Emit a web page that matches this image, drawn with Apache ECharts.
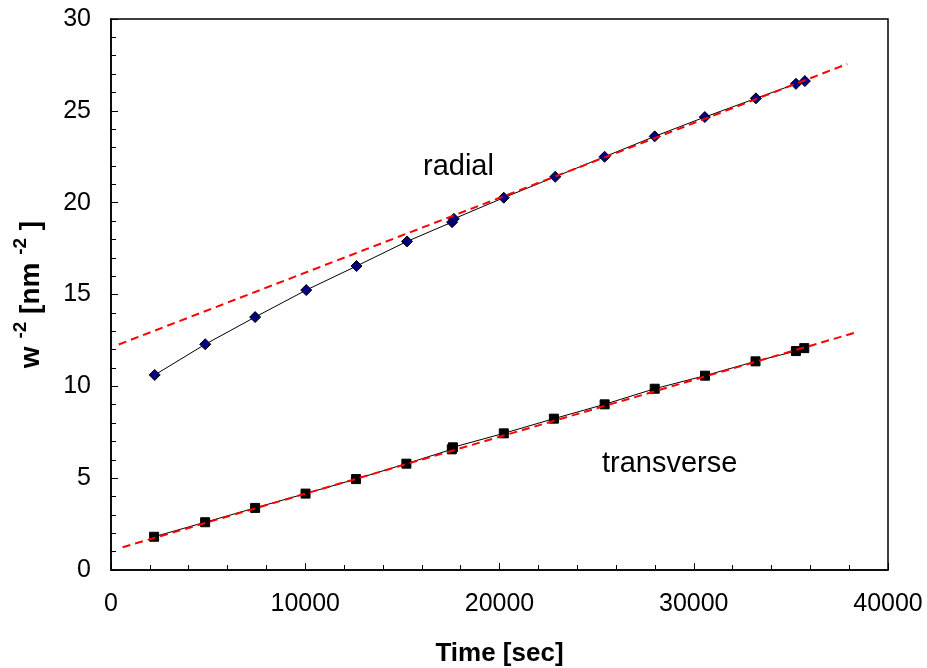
<!DOCTYPE html>
<html>
<head>
<meta charset="utf-8">
<script src="https://cdn.jsdelivr.net/npm/echarts@6/dist/echarts.min.js"></script>
<style>
  html, body { margin: 0; padding: 0; background: #fff; }
  #chart { width: 927px; height: 668px; }
</style>
</head>
<body>
<div id="chart"></div>
<script>
// measured time points [sec]
const radialTime = [2250, 4850, 7420, 10050, 12640, 15240, 17560, 17650, 20220, 22870, 25410, 27990, 30570, 33200, 35260, 35720];
const radialVal = [10.62, 12.29, 13.77, 15.24, 16.55, 17.89, 18.94, 19.12, 20.27, 21.41, 22.50, 23.61, 24.66, 25.68, 26.47, 26.62];

const transTime = [2220, 4845, 7420, 10015, 12610, 15206, 17545, 17600, 20222, 22800, 25412, 27990, 30580, 33180, 35260, 35690];
const transVal = [1.81, 2.60, 3.38, 4.16, 4.95, 5.79, 6.57, 6.68, 7.44, 8.24, 9.02, 9.87, 10.58, 11.36, 11.92, 12.08];

// linear fits (end points of the dashed lines)
const radialFitTime = [400, 37900];
const radialFitVal = [12.28, 27.55];
const transFitTime = [600, 38450];
const transFitVal = [1.24, 12.97];

const zip = (xs, ys) => xs.map((x, i) => [x, ys[i]]);

const chartDom = document.getElementById('chart');
const myChart = echarts.init(chartDom);
let option;

const font = 'Liberation Sans, Arial, sans-serif';

option = {
  animation: false,
  backgroundColor: '#fff',
  textStyle: { fontFamily: font },
  grid: {
    left: 111,
    right: 39,
    top: 19,
    bottom: 98,
    outerBoundsMode: 'none',
    containLabel: false,
    show: true,
    borderColor: '#000',
    borderWidth: 1.5
  },
  xAxis: {
    type: 'value',
    min: 0,
    max: 40000,
    interval: 10000,
    name: 'Time [sec]',
    nameLocation: 'middle',
    nameGap: 71,
    nameTextStyle: { fontSize: 26, fontWeight: 'bold', color: '#000', fontFamily: font },
    axisLine: { lineStyle: { color: '#000', width: 1.5 } },
    axisTick: { inside: true, length: 7, lineStyle: { color: '#000' } },
    minorTick: { show: true, splitNumber: 5, length: 5, lineStyle: { color: '#000' } },
    axisLabel: { fontSize: 25, color: '#000', margin: 22, fontFamily: font, formatter: v => String(v) },
    splitLine: { show: false }
  },
  yAxis: {
    type: 'value',
    min: 0,
    max: 30,
    interval: 5,
    name: '{b|w }{s|-2}{b| [nm }{s|-2}{b| ]}',
    nameLocation: 'middle',
    nameRotate: 90,
    nameGap: 66,
    nameTextStyle: {
      color: '#000',
      rich: {
        b: { fontSize: 28, fontWeight: 'bold', color: '#000', fontFamily: font, lineHeight: 34, verticalAlign: 'bottom' },
        s: { fontSize: 19, fontWeight: 'bold', color: '#000', fontFamily: font, lineHeight: 34, verticalAlign: 'top' }
      }
    },
    axisLine: { lineStyle: { color: '#000', width: 1.5 } },
    axisTick: { inside: true, length: 7, lineStyle: { color: '#000' } },
    minorTick: { show: true, splitNumber: 5, length: 5, lineStyle: { color: '#000' } },
    axisLabel: { fontSize: 25, color: '#000', margin: 20, fontFamily: font },
    splitLine: { show: false }
  },
  series: [
    {
      name: 'radial fit',
      type: 'line',
      data: zip(radialFitTime, radialFitVal),
      symbol: 'none',
      lineStyle: { color: '#ff0000', width: 2, type: [8, 5] },
      z: 3
    },
    {
      name: 'transverse fit',
      type: 'line',
      data: zip(transFitTime, transFitVal),
      symbol: 'none',
      lineStyle: { color: '#ff0000', width: 2, type: [8, 5] },
      z: 3
    },
    {
      name: 'radial',
      type: 'line',
      data: zip(radialTime, radialVal),
      symbol: 'diamond',
      symbolSize: 11,
      lineStyle: { color: '#000', width: 1 },
      itemStyle: { color: '#000080', borderColor: '#000', borderWidth: 1 },
      z: 2
    },
    {
      name: 'transverse',
      type: 'line',
      data: zip(transTime, transVal),
      symbol: 'rect',
      symbolSize: 9,
      lineStyle: { color: '#000', width: 1 },
      itemStyle: { color: '#000', borderColor: '#000', borderWidth: 1 },
      z: 2
    }
  ],
  graphic: [
    {
      type: 'text',
      left: 423,
      top: 152,
      style: { text: 'radial', fontSize: 29, fill: '#000', fontFamily: font }
    },
    {
      type: 'text',
      left: 602,
      top: 449,
      style: { text: 'transverse', fontSize: 29, fill: '#000', fontFamily: font }
    }
  ]
};

option && myChart.setOption(option);
</script>
</body>
</html>
